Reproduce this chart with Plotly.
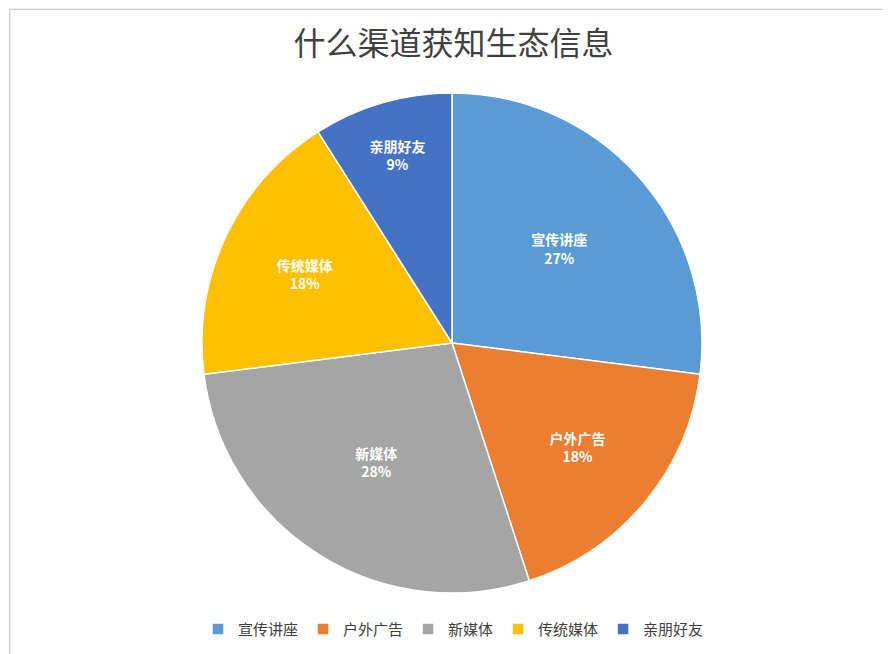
import plotly.graph_objects as go

labels = ["宣传讲座", "户外广告", "新媒体", "传统媒体", "亲朋好友"]
values = [27, 18, 28, 18, 9]
colors = ["#5B9BD5", "#ED7D31", "#A5A5A5", "#FFC000", "#4472C4"]

fig = go.Figure(go.Pie(
    labels=labels, values=values, sort=False, direction="clockwise", rotation=0,
    marker=dict(colors=colors, line=dict(color="white", width=1.5)),
    textinfo="label+percent", textposition="inside", insidetextorientation="horizontal",
    texttemplate="<b>%{label}<br>%{percent:.0%}</b>",
    textfont=dict(color="white", size=14, family="Noto Sans CJK SC"),
    domain=dict(x=[194/891, 694/891], y=[1-585/654, 1-85/654]),
    hoverinfo="label+percent",
))
fig.update_layout(
    width=891, height=654, margin=dict(l=0, r=0, t=0, b=0),
    paper_bgcolor="white",
    title=dict(text="什么渠道获知生态信息", x=0.5, y=0.945, xanchor="center", yanchor="middle",
               font=dict(size=32, color="#404040", family="Noto Sans CJK SC")),
    legend=dict(orientation="h", x=0.5, xanchor="center", y=0.025, yanchor="bottom",
                font=dict(size=15, color="#404040", family="Noto Sans CJK SC")),
    shapes=[dict(type="rect", xref="paper", yref="paper", x0=0.002, y0=0.002, x1=0.998, y1=0.998,
                 line=dict(color="#BFBFBF", width=1))],
)
fig.write_html("out.html")
